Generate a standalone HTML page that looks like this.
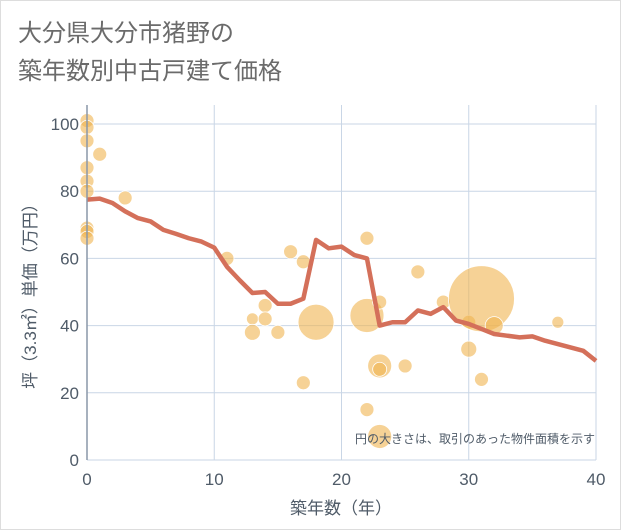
<!DOCTYPE html>
<html><head><meta charset="utf-8"><style>
body{margin:0;background:#fff;}
svg{display:block;font-family:"Liberation Sans","Noto Sans CJK JP",sans-serif;}
</style></head><body>
<svg width="621" height="530">
<rect x="0.5" y="0.5" width="620" height="529" fill="#fff" stroke="#ddd"/>
<text x="18" y="41" font-size="24" fill="#6b6b6b">大分県大分市猪野の</text>
<text x="18" y="79" font-size="24" fill="#6b6b6b">築年数別中古戸建て価格</text>
<g id="grid"></g>
<g id="bubbles"></g>
<g id="line"></g>
<g id="axes"></g>
<text x="595" y="443" font-size="12" fill="#4f5b68" text-anchor="end">円の大きさは、取引のあった物件面積を示す</text>
<text x="341" y="514" font-size="17" fill="#4f5b68" text-anchor="middle">築年数（年）</text>
<text transform="translate(36,292) rotate(-90)" font-size="17" fill="#4f5b68" text-anchor="middle">坪（3.3㎡）単価（万円）</text>
</svg>
<script>
const xTicks=[0,10,20,30,40];
const yTicks=[0,20,40,60,80,100];
const lineYears=[0,1,2,3,4,5,6,7,8,9,10,11,12,13,14,15,16,17,18,19,20,21,22,23,24,25,26,27,28,29,30,31,32,33,34,35,36,37,38,39,40];
const lineValues=[77.5,77.8,76.5,74,72,71,68.5,67.3,66,65,63.2,57.5,53.5,49.7,50,46.5,46.5,48,65.5,63,63.5,61,60,40,41,41,44.5,43.5,45.5,41.5,40.5,39,37.5,37,36.5,36.8,35.5,34.5,33.5,32.5,29.5];
const bubbleYears=[0,0,0,0,0,0,0,0,0,1,3,11,13,13,14,14,15,16,17,17,18,22,22,22,23,23,23,23,25,26,28,30,30,31,31,32,37];
const bubbleValues=[101,99,95,87,83,80,69,68,66,91,78,60,42,38,46,42,38,62,59,23,41,66,43,15,47,28,27,7,28,56,47,41,33,48,24,40,41];
const bubbleRadii=[7,7,7,7,7,7,7,7,7,7,7,7,6,8,7,7,7,7,7,7,18,7,17,7,7,12,7,12,7,7,7,7,8,33,7,9,6];
const X=v=>87+v*(596-87)/40, Y=v=>460-v*3.36;
const ns="http://www.w3.org/2000/svg";
function mk(t,a,p){const e=document.createElementNS(ns,t);for(const k in a)e.setAttribute(k,a[k]);p.appendChild(e);return e;}
const g=document.getElementById('grid'),ax=document.getElementById('axes');
xTicks.forEach(t=>{const l=mk('line',{x1:X(t),x2:X(t),y1:105,y2:460,stroke:'#c9d6e6','stroke-width':1},g);

const tx=mk('text',{x:X(t),y:485,'font-size':17,fill:'#4f5b68','text-anchor':'middle'},ax);tx.textContent=t;
});
yTicks.forEach(t=>{const l=mk('line',{x1:87,x2:596,y1:Y(t),y2:Y(t),stroke:'#c9d6e6','stroke-width':1},g);

const tx=mk('text',{x:79,y:Y(t)+6,'font-size':17,fill:'#4f5b68','text-anchor':'end'},ax);tx.textContent=t;
});
const ya=mk('line',{x1:87,x2:87,y1:105,y2:460,stroke:'#8a97a8','stroke-width':1.5},ax);

const b=document.getElementById('bubbles');
bubbleYears.forEach((yr,i)=>{const c=mk('circle',{cx:X(yr),cy:Y(bubbleValues[i]),r:bubbleRadii[i],fill:'rgba(240,180,80,0.6)',stroke:'#fff','stroke-width':0.8},b);
});
const pts=lineYears.map((yr,i)=>X(yr)+','+Y(lineValues[i])).join(' ');
const pl=mk('polyline',{points:pts,fill:'none',stroke:'#d4705a','stroke-width':4.5,'stroke-linejoin':'round'},document.getElementById('line'));

</script>
</body></html>
